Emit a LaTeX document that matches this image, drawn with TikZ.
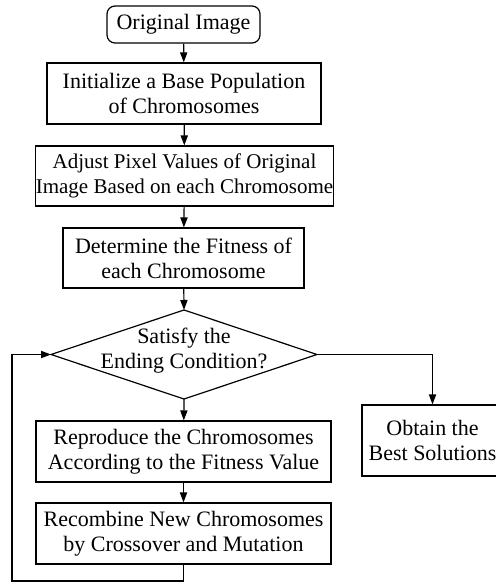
\documentclass[tikz,border=0pt]{standalone}
\usepackage{fontspec}
\setmainfont{Liberation Serif}
\usetikzlibrary{arrows.meta,shapes.geometric}
\begin{document}
\begin{tikzpicture}[x=0.5pt,y=-0.5pt,
  every node/.style={font=\fontsize{11}{12.5}\selectfont, align=center, inner sep=0pt},
  stepbox/.style={draw, line width=0.6pt, minimum width=#1*0.5pt},
  decision/.style={draw, line width=0.6pt, diamond, inner sep=0pt, outer sep=0pt},
  arr/.style={line width=0.6pt, -{Triangle[length=5pt,width=3.6pt]}}]
\useasboundingbox (0,0) rectangle (496,582);
% process steps
\node[stepbox=153, minimum height=18.5pt, rounded corners=4pt] (orig) at (183.5,24.5) {Original Image};
\node[stepbox=274, minimum height=30.5pt] (init) at (184,93.5) {Initialize a Base Population\\of Chromosomes};
\node[stepbox=297, minimum height=30pt, font=\fontsize{10.5}{12.5}\selectfont] (adj) at (184.5,176) {Adjust Pixel Values of Original\\Image Based on each Chromosome};
\node[stepbox=241, minimum height=30pt] (fit) at (183.5,258) {Determine the Fitness of\\each Chromosome};
% decision: outline and its text
\node[decision, minimum width=133pt, minimum height=44.5pt] (cond) at (184,354.5) {};
\node (condtext) at (184,351) {Satisfy the\\Ending Condition?};
\node[stepbox=295, minimum height=30.5pt] (rep) at (183.5,451.5) {Reproduce the Chromosomes\\According to the Fitness Value};
\node[stepbox=295, minimum height=30.5pt] (rec) at (183.5,533.5) {Recombine New Chromosomes\\by Crossover and Mutation};
\node[stepbox=141, minimum height=35.5pt] (best) at (432.5,440.5) {Obtain the\\Best Solutions};
% return path of the loop
\coordinate (loopa) at (183.5,581);
\coordinate (loopb) at (12,581);
\coordinate (loopc) at (12,354.5);
% connectors
\draw[arr] (orig) -- (init);
\draw[arr] (init) -- (adj);
\draw[arr] (adj) -- (fit);
\draw[arr] (fit) -- (cond.north);
\draw[arr] (cond.south) -- (rep);
\draw[arr] (rep) -- (rec);
\draw[arr] (cond.east) -| (best.north);
\draw[arr] (rec.south) -- (loopa) -- (loopb) -- (loopc) -- (cond.west);
\end{tikzpicture}
\end{document}
